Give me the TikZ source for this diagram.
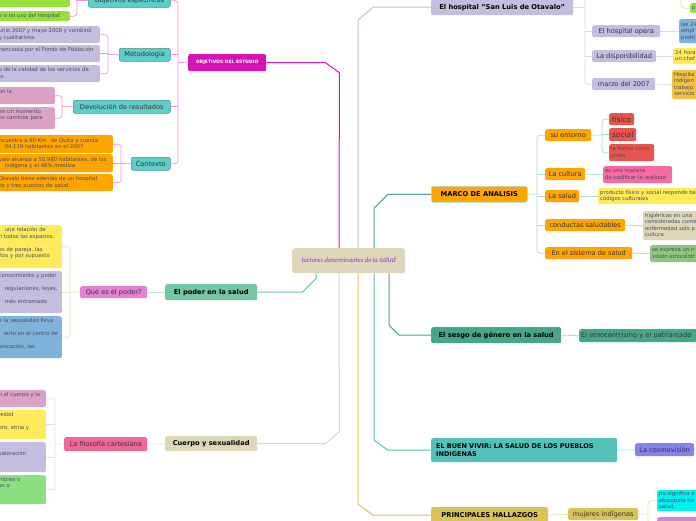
\documentclass[tikz,border=0pt]{standalone}
\usepackage{fontspec}
\setmainfont{DejaVu Sans}
\newfontfamily\calfont{Carlito}
\usetikzlibrary{calc}

\definecolor{cMag}{HTML}{D414B4}
\definecolor{cMagL}{HTML}{EE95DE}
\definecolor{cTeal}{HTML}{5CCFC8}
\definecolor{cTealD}{HTML}{4A8F8C}
\definecolor{cLav}{HTML}{C4BDE0}
\definecolor{cLavL}{HTML}{DCD7EE}
\definecolor{cGreen}{HTML}{96E03C}
\definecolor{cGreenL}{HTML}{C8EE98}
\definecolor{cPinkL}{HTML}{DCA2C6}
\definecolor{cOrange}{HTML}{FFA500}
\definecolor{cYellow}{HTML}{FFEB5A}
\definecolor{cBlue}{HTML}{7EB3DA}
\definecolor{cAqua}{HTML}{73C7A3}
\definecolor{cAquaL}{HTML}{BCE6D8}
\definecolor{cOrchid}{HTML}{E481D6}
\definecolor{cBeige}{HTML}{DDD6B9}
\definecolor{cBeigeL}{HTML}{EAE4CC}
\definecolor{cRose}{HTML}{F0689B}
\definecolor{cLGreen}{HTML}{8DE07F}
\definecolor{cRed}{HTML}{E8554E}
\definecolor{cHot}{HTML}{F26BA2}
\definecolor{cSea}{HTML}{45A68B}
\definecolor{cSeaL}{HTML}{A8DCCB}
\definecolor{cCyanT}{HTML}{53C1B9}
\definecolor{cCyanL}{HTML}{A8E2DE}
\definecolor{cViolet}{HTML}{8484EC}
\definecolor{cGold}{HTML}{D9C257}
\definecolor{cGoldL}{HTML}{EEE2A8}
\definecolor{cCyan}{HTML}{00F2EE}
\definecolor{cPurp}{HTML}{D585D5}
\definecolor{cSage}{HTML}{8CC77D}
\definecolor{cAmber}{HTML}{F2C23E}
\definecolor{cPurple}{HTML}{A030E0}
\definecolor{cLime}{HTML}{D8EEAC}
\definecolor{cInk}{HTML}{4A4A5E}

\newcommand\leaffont{\fontsize{5.3}{6.5}\selectfont}
\newcommand\leaflines[1]{\begin{tabular}{@{}l@{}}#1\end{tabular}}

\tikzset{
  mm/.style={rounded corners=2pt, inner sep=0pt, anchor=north west, text=black!80},
  wh/.style 2 args={minimum width=#1pt, minimum height=#2pt},
  topic/.style={mm, text=black, font=\bfseries\fontsize{6.7}{8}\selectfont},
  sub/.style={mm, font=\fontsize{6.6}{8}\selectfont},
  tsub/.style={sub, fill=cTeal, draw=cTealD, line width=0.5pt},
  leaf/.style={mm, inner xsep=2pt, align=left, text=cInk, font=\leaffont},
  lleaf/.style={leaf, anchor=north east, inner xsep=1pt},
  trunk/.style={line width=1pt},
  bar/.style={line width=0.7pt, rounded corners=3pt},
}

\begin{document}
\begin{tikzpicture}[x=1pt,y=-1pt]
\fill[white] (0,0) rectangle (696,520);
\useasboundingbox (0,0) rectangle (696,520);
\clip (0,0) rectangle (696,520);

% centre
\node[mm, wh={113}{25}, rounded corners=3pt, fill=cBeige, text=cPurple,
      font=\calfont\itshape\fontsize{6.6}{8}\selectfont] (cen) at (292,248)
      {factores determinantes de la {\fontsize{7.6}{8}\selectfont salud}};

% ---- left: objetivos
\node[mm, wh={78}{17}, fill=cMag, text=white, font=\bfseries\fontsize{4.5}{5}\selectfont] (obj) at (188,54) {OBJETIVOS DEL ESTUDIO};
\node[tsub, wh={82}{13}] (objesp) at (88,-6) {Objetivos específicos};
\node[tsub, wh={51}{13}] (metod) at (119,48) {Metodologia};
\node[tsub, wh={97}{13}] (devol) at (73,100) {Devolución de resultados};
\node[tsub, wh={39}{13}] (contx) at (131,157) {Contexto};

\node[lleaf, fill=cGreen, text width=70pt, minimum height=17pt] (g1) at (70,-10) {};
\node[lleaf, fill=cGreen, text width=70pt, minimum height=10pt] (g2) at (70,11) {\leaflines{o o no uso del Hospital}};

\node[lleaf, fill=cLav, text width=100pt, minimum height=17pt] (m1) at (100,26) {\leaflines{unio 2007 y mayo 2008 y combinó\\ y cualitativos.}};
\node[lleaf, fill=cLav, text width=100pt, minimum height=17pt] (m2) at (100,45) {\leaflines{nanciada por el Fondo de Población\\ ~}};
\node[lleaf, fill=cLav, text width=100pt, minimum height=17pt] (m3) at (100,65) {\leaflines{o de la calidad de los servicios de\\ lo}};

\node[lleaf, fill=cPinkL, text width=55pt, minimum height=17pt] (d1) at (55,87) {\leaflines{on la\\ ~}};
\node[lleaf, fill=cPinkL, text width=55pt, minimum height=22pt] (d2) at (55,107) {\leaflines{en un momento\\ os cambios para\\ ~}};

\node[lleaf, fill=cOrange, text width=113pt, minimum height=18pt] (c1) at (113,135) {\leaflines{ncuentra a 90 Km. de Quito y cuenta\\ \hspace*{6pt}04.119 habitantes en el 2007}};
\node[lleaf, fill=cOrange, text width=113pt, minimum height=18pt] (c2) at (113,154) {\leaflines{valo alcanza a 50.980 habitantes, de los\\ \hspace*{6pt}indígena y el 48\% mestiza}};
\node[lleaf, fill=cOrange, text width=113pt, minimum height=17pt] (c3) at (113,174) {\leaflines{Otavalo tiene además de un hospital\\ os y tres puestos de salud.}};

% ---- left: poder
\node[topic, fill=cAqua, wh={92}{16}] (poder) at (165,284) {El poder en la salud};
\node[sub, fill=cOrchid, wh={67}{12}] (quees) at (80,286) {Qué es el poder?};
\node[lleaf, fill=cYellow, text width=62pt, minimum height=43pt] (p1) at (62,225) {\leaflines{\hspace*{6pt}una relación de\\ n todos los espacios,\\ ~\\ es de pareja, las\\ itos y por supuesto\\ ~}};
\node[lleaf, fill=cLav, text width=62pt, minimum height=42pt] (p2) at (62,271) {\leaflines{conocimiento y poder\\ ~\\ \hspace*{6pt}regulaciones, leyes,\\ ~\\ \hspace*{6pt}más entramado\\ ~}};
\node[lleaf, fill=cBlue, text width=62pt, minimum height=42pt] (p3) at (62,316) {\leaflines{e la sexualidad lleva\\ ~\\ \hspace*{5pt}ierte en el centro de\\ ~\\ anicación, las\\ ~}};

% ---- left: cuerpo
\node[topic, fill=cBeige, wh={92}{15}] (cuerpo) at (165,436) {Cuerpo y sexualidad};
\node[sub, fill=cRose, wh={83}{14}] (filo) at (64,437) {La filosofía cartesiana};
\node[lleaf, fill=cPinkL, text width=46pt, minimum height=17pt] (f1) at (46,390) {\leaflines{n el cuerpo y la\\ ~}};
\node[lleaf, fill=cYellow, text width=46pt, minimum height=29pt] (f2) at (46,410) {\leaflines{iedad\\ ~\\ ero, etnia y\\ ~}};
\node[lleaf, fill=cLav, text width=46pt, minimum height=30pt] (f3) at (46,442) {\leaflines{~\\ valoración\\ ~\\ ~}};
\node[lleaf, fill=cLGreen, text width=46pt, minimum height=29pt] (f4) at (46,475) {\leaflines{mbres o\\ as o\\ ~\\ ~}};

% ---- right: hospital
\node[topic, fill=cLav, wh={142}{16}] (hosp) at (431,-1) {El hospital "San Luis de Otavalo"};
\node[sub, fill=cLav, wh={68}{12}] (hop) at (592,25) {El hospital opera};
\node[sub, fill=cLav, wh={64}{12}] (hdis) at (592,50) {La disponibilidad};
\node[sub, fill=cLav, wh={63}{12}] (hmar) at (592,78) {marzo del 2007};
\node[leaf, fill=cBlue, text width=40pt, minimum height=24pt] (hopx) at (679,19) {\leaflines{las 24\\ empl\\ profe}};
\node[leaf, fill=cYellow, text width=40pt, minimum height=16pt] (hdisx) at (673,48) {\leaflines{24 hora\\ un chof}};
\node[leaf, fill=cAmber, text width=40pt, minimum height=29pt] (hmarx) at (672,70) {\leaflines{Hospita\\ indígen\\ trabajo\\ servicio}};
\node[leaf, fill=cGreen, text width=30pt, minimum height=10pt] (hgr) at (690,3) {\leaflines{p}};

% ---- right: marco
\node[topic, fill=cOrange, draw=cSeaL, line width=0.6pt, wh={96}{16}] (marco) at (431,186) {MARCO DE ANALISIS};
\node[sub, fill=cOrange, wh={46}{12}] (ment) at (545,129) {su entorno};
\node[sub, fill=cOrange, wh={40}{12}] (mcul) at (545,168) {La cultura};
\node[sub, fill=cOrange, wh={34}{12}] (msal) at (545,190) {La salud};
\node[sub, fill=cOrange, wh={80}{12}] (mcon) at (545,219) {conductas saludables};
\node[sub, fill=cOrange, wh={87}{12}] (msis) at (545,247) {En el sistema de salud};
\node[sub, fill=cRed, wh={25}{12}, font=\fontsize{7.5}{8}\selectfont] (efis) at (609,113) {físico};
\node[sub, fill=cRed, wh={27}{13}, font=\fontsize{7.5}{8}\selectfont] (esoc) at (609,128) {social};
\node[leaf, fill=cRed, text width=41pt, minimum height=17pt] (efor) at (609,144) {\leaflines{la forma como\\ viven}};
\node[leaf, fill=cHot, text width=65pt, minimum height=17pt] (culx) at (603,166) {\leaflines{es una manera\\ de codificar la realidad}};
\node[leaf, fill=cYellow, text width=100pt, minimum height=16pt] (salx) at (598,188) {\leaflines{producto físico y social responde ba\\ códigos culturales}};
\node[leaf, fill=cBeige, text width=60pt, minimum height=29pt] (conx) at (643,211) {\leaflines{higiénicas en una\\ consideradas como\\ enfermedad solo p\\ cultura}};
\node[leaf, fill=cSage, text width=60pt, minimum height=17pt] (sisx) at (650,245) {\leaflines{se expresa un n\\ visión etnocéntr}};

% ---- right: sesgo, buen vivir, hallazgos
\node[topic, fill=cSea, wh={130}{16}] (sesgo) at (431,327) {El sesgo de género en la salud};
\node[sub, fill=cSea, inner xsep=2pt, text width=130pt, align=left, minimum height=13pt] (etno) at (579,329) {El etnocentrismo y el patriarcado};
\node[topic, fill=cCyanT, inner xsep=5pt, text width=176pt, align=left, minimum height=24pt,
      font=\bfseries\fontsize{6.5}{7.6}\selectfont] (buen) at (431,438) {EL BUEN VIVIR: LA SALUD DE LOS PUEBLOS\\ INDIGENAS};
\node[sub, fill=cViolet, wh={59}{13}] (cosmo) at (635,443) {La cosmovisión};
\node[topic, fill=cGold, wh={117}{16}] (hall) at (431,507) {PRINCIPALES HALLAZGOS};
\node[sub, fill=cGold, wh={70}{12}] (muj) at (568,508) {mujeres indígenas};
\node[leaf, fill=cCyan, text width=50pt, minimum height=21pt] (cyx) at (657,490) {\leaflines{no significa e\\ abandono de\\ salud.}};
\node[leaf, fill=cPurp, text width=50pt, minimum height=12pt] (pux) at (657,517) {};

% trunks from the centre
\draw[trunk, cMag] (obj.east) -- ++(59,0) -- ++(14,10) -- ($(cen.north west)+(47,0)$);
\draw[trunk, cLav] (hosp.west) -- ++(-58,0) -- ++(-15,13) -- ($(cen.north west)+(66,0)$);
\draw[trunk, cSea] (marco.west) -- ++(-43,0) -- ++(-14,14) -- ($(cen.north west)+(82,0)$);
\draw[trunk, cSea] (sesgo.west) -- ++(-32,0) -- ++(-10,-10) -- ($(cen.south west)+(97,0)$);
\draw[trunk, cCyanT] (buen.west) -- ++(-43,0) -- ++(-14,-10) -- ($(cen.south west)+(82,0)$);
\draw[trunk, cGold] (hall.west) -- ++(-58,0) -- ++(-15,-11) -- ($(cen.south west)+(66,0)$);
\draw[trunk, cBeige] (cuerpo.east) -- ++(68,0) -- ++(14,-12) -- ($(cen.south west)+(47,0)$);
\draw[trunk, cAqua] (poder.east) -- ++(45,0) -- ++(14,-14) -- ($(cen.south west)+(24,0)$);

% objetivos branches
\coordinate (objbar) at (178,62.5);
\draw[bar, cMagL] (obj.west) -- (objbar);
\draw[bar, cMagL] (objesp.east) -| (objbar) |- (contx.east);
\draw[bar, cMagL] (metod.east) -- (metod.east -| objbar);
\draw[bar, cMagL] (devol.east) -- (devol.east -| objbar);
\coordinate (espbar) at (77,0);
\draw[bar, cMagL] (objesp.west) -- (objesp.west -| espbar);
\draw[bar, cMagL] (g1.east) -| (espbar) |- (g2.east);
\coordinate (metbar) at (108,54.5);
\draw[bar, cMagL] (metod.west) -- (metbar);
\draw[bar, cMagL] (m1.east) -| (metbar) |- (m3.east);
\draw[bar, cMagL] (m2.east) -- (m2.east -| metbar);
\coordinate (devbar) at (62,106.5);
\draw[bar, cMagL] (devol.west) -- (devbar);
\draw[bar, cMagL] (d1.east) -| (devbar) |- (d2.east);
\coordinate (conbar) at (121,163.5);
\draw[bar, cMagL] (contx.west) -- (conbar);
\draw[bar, cMagL] (c1.east) -| (conbar) |- (c3.east);
\draw[bar, cMagL] (c2.east) -- (c2.east -| conbar);

% poder branches
\draw[bar, cAquaL] (poder.west) -- (quees.east);
\coordinate (qbar) at (70,292);
\draw[bar, cLime] (quees.west) -- (qbar);
\draw[bar, cLime] (p1.east) -| (qbar) |- (p3.east);
\draw[bar, cLime] (p2.east) -- (p2.east -| qbar);

% cuerpo branches
\draw[bar, cBeigeL] (cuerpo.west) -- (filo.east);
\coordinate (fbar) at (55,444);
\draw[bar, cBeigeL] (filo.west) -- (fbar);
\draw[bar, cBeigeL] (f1.east) -| (fbar) |- (f4.east);
\draw[bar, cBeigeL] (f2.east) -- (f2.east -| fbar);
\draw[bar, cBeigeL] (f3.east) -- (f3.east -| fbar);

% hospital branches
\coordinate (htop) at (585,-10);
\draw[bar, cLavL] (hosp.east) -- (hosp.east -| htop);
\draw[bar, cLavL] (htop) |- (hmar.west);
\draw[bar, cLavL] (hop.west) -- (hop.west -| htop);
\draw[bar, cLavL] (hdis.west) -- (hdis.west -| htop);
\draw[bar, cLavL] (hop.east) -- (hopx.west);
\draw[bar, cLavL] (hdis.east) -- (hdisx.west);
\draw[bar, cLavL] (hmar.east) -- (hmarx.west);
\coordinate (gtop) at (681,-10);
\draw[bar, cGreenL] (gtop) |- (hgr.west);

% marco branches
\coordinate (mbar) at (537,194);
\draw[bar, cSeaL] (marco.east) -- (mbar);
\draw[bar, cSeaL] (ment.west) -| (mbar) |- (msis.west);
\draw[bar, cSeaL] (mcul.west) -- (mcul.west -| mbar);
\draw[bar, cSeaL] (msal.west) -- (msal.west -| mbar);
\draw[bar, cSeaL] (mcon.west) -- (mcon.west -| mbar);
\coordinate (ebar) at (602,135);
\draw[bar, cSeaL] (ment.east) -- (ebar);
\draw[bar, cSeaL] (efis.west) -| (ebar) |- (efor.west);
\draw[bar, cSeaL] (esoc.west) -- (esoc.west -| ebar);
\draw[bar, cSeaL] (mcul.east) -- (culx.west);
\draw[bar, cSeaL] (msal.east) -- (salx.west);
\draw[bar, cSeaL] (mcon.east) -- (conx.west);
\draw[bar, cSeaL] (msis.east) -- (sisx.west);

% sesgo, buen vivir, hallazgos
\draw[bar, cSeaL] (sesgo.east) -- (etno.west);
\coordinate (cosout) at (700,449.5);
\draw[bar, cCyanL] (buen.east) -- (cosmo.west);
\draw[bar, cCyanL] (cosmo.east) -- (cosout);
\draw[bar, cGoldL] (hall.east) -- (muj.west);
\coordinate (mbar2) at (648,514);
\draw[bar, cGoldL] (muj.east) -- (mbar2);
\draw[bar, cGoldL] (cyx.west) -| (mbar2) |- (pux.west);
\end{tikzpicture}
\end{document}
